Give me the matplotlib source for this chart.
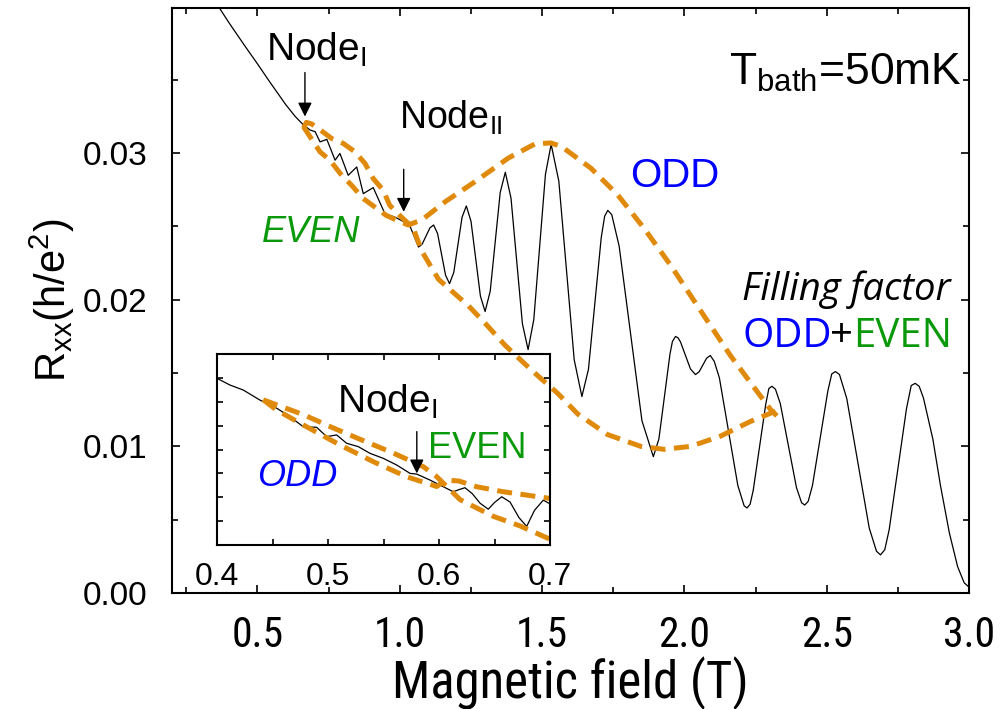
import os
import matplotlib
matplotlib.use("Agg")
import matplotlib.pyplot as plt
from matplotlib import font_manager
from matplotlib.ticker import MultipleLocator, FormatStrFormatter

plt.rcParams["font.family"] = ["Liberation Sans", "DejaVu Sans"]
plt.rcParams["mathtext.fontset"] = "custom"
plt.rcParams["mathtext.rm"] = "Liberation Sans"
plt.rcParams["mathtext.it"] = "Liberation Sans:italic"

# 主曲線 Rxx(B)
field = [0.35, 0.40, 0.46, 0.50, 0.542, 0.60, 0.633, 0.662, 0.685, 0.703, 0.720,
         0.744, 0.773, 0.790, 0.819, 0.849, 0.872, 0.907, 0.948, 0.983, 1.006,
         1.035, 1.052, 1.066, 1.079, 1.0925, 1.106, 1.119, 1.133, 1.147, 1.161,
         1.175, 1.190, 1.2045, 1.219, 1.234, 1.2505, 1.267, 1.2835, 1.300, 1.318,
         1.3355, 1.353, 1.371, 1.391, 1.411, 1.431, 1.451, 1.471, 1.4915, 1.512,
         1.532, 1.559, 1.586, 1.613, 1.640, 1.663, 1.6855, 1.708, 1.720, 1.731,
         1.745, 1.771, 1.811, 1.851, 1.891, 1.9105, 1.930, 1.9495, 1.958, 1.969,
         1.978, 1.9865, 2.004, 2.0215, 2.039, 2.052, 2.065, 2.078, 2.091, 2.105,
         2.123, 2.1555, 2.188, 2.210, 2.220, 2.231, 2.242, 2.264, 2.286, 2.297,
         2.308, 2.320, 2.337, 2.3655, 2.394, 2.412, 2.423, 2.435, 2.450, 2.477,
         2.504, 2.518, 2.531, 2.545, 2.5705, 2.610, 2.6495, 2.675, 2.689, 2.704,
         2.7195, 2.750, 2.7805, 2.797, 2.811, 2.825, 2.840, 2.873, 2.900, 2.931,
         2.960, 2.983, 3.0]
rxx = [0.0404, 0.0389, 0.0372, 0.0361, 0.0349, 0.0333, 0.0325, 0.03192, 0.03158,
       0.03146, 0.03077, 0.03094, 0.02952, 0.02998, 0.02849, 0.02906, 0.02724,
       0.02765, 0.02587, 0.02564, 0.02541, 0.02507, 0.02427, 0.0236, 0.0238,
       0.02435, 0.0249, 0.0251, 0.02452, 0.0231, 0.02168, 0.0211, 0.02187,
       0.02375, 0.02563, 0.0264, 0.02535, 0.0228, 0.02025, 0.0192, 0.02059,
       0.02395, 0.02731, 0.0287, 0.02693, 0.02265, 0.01837, 0.0166, 0.01864,
       0.0236, 0.02856, 0.0306, 0.02809, 0.0220, 0.01591, 0.0134, 0.01525,
       0.01975, 0.02425, 0.0257, 0.0261, 0.0258, 0.02365, 0.0177, 0.01175,
       0.0093, 0.0105, 0.0134, 0.0163, 0.01715, 0.0175, 0.0174, 0.01712,
       0.0162, 0.01528, 0.0149, 0.01509, 0.01555, 0.01601, 0.0162, 0.0158,
       0.01468, 0.0110, 0.00732, 0.00595, 0.0058, 0.00605, 0.00701, 0.00995,
       0.01289, 0.01395, 0.0141, 0.0139, 0.01292, 0.01005, 0.00718, 0.00615,
       0.0060, 0.00625, 0.00733, 0.01055, 0.01377, 0.01495, 0.0151, 0.0149,
       0.01327, 0.00885, 0.00443, 0.00285, 0.0026, 0.00295, 0.00431, 0.00845,
       0.01259, 0.01415, 0.0143, 0.0141, 0.0133, 0.0105, 0.0073, 0.0041,
       0.0018, 0.0007, 0.0004]

# 包絡線 (EVEN レンズ + ODD 大きな弧)
env_a_field = [0.662, 0.672, 0.69, 0.73, 0.761, 0.802, 0.843, 0.878, 0.907, 0.942,
               0.965, 1.006, 1.047, 1.078, 1.136, 1.20, 1.241, 1.30, 1.37, 1.463,
               1.556, 1.626, 1.731, 1.847, 1.929, 2.022, 2.127, 2.232, 2.32]
env_a_rxx = [0.0317, 0.0321, 0.0320, 0.03145, 0.0310, 0.03066, 0.03009, 0.0293,
             0.02827, 0.02747, 0.02644, 0.02564, 0.0249, 0.0233, 0.0214, 0.0203,
             0.0196, 0.0184, 0.0169, 0.0152, 0.0136, 0.0122, 0.0108, 0.0100,
             0.0098, 0.0100, 0.0107, 0.0117, 0.0124]
env_b_field = [0.662, 0.685, 0.72, 0.755, 0.796, 0.831, 0.872, 0.913, 0.953, 1.006,
               1.03, 1.078, 1.160, 1.265, 1.381, 1.474, 1.53, 1.568, 1.672, 1.766,
               1.859, 1.952, 2.045, 2.162, 2.302, 2.325]
env_b_rxx = [0.0318, 0.03112, 0.03009, 0.02952, 0.02849, 0.02781, 0.0269, 0.02632,
             0.02575, 0.02529, 0.0251, 0.02545, 0.02669, 0.02806, 0.02966, 0.03062,
             0.0307, 0.03046, 0.02897, 0.02715, 0.02486, 0.02235, 0.01961, 0.01619,
             0.01253, 0.01208]

# インセット
ins_field = [0.400, 0.4117, 0.4237, 0.4387, 0.4538, 0.4658, 0.4778, 0.4898, 0.4988,
             0.5078, 0.5168, 0.5273, 0.5378, 0.5498, 0.5619, 0.5739, 0.5799, 0.5919,
             0.6039, 0.6129, 0.618, 0.6234, 0.630, 0.637, 0.6444, 0.650, 0.6565,
             0.664, 0.672, 0.679, 0.686, 0.694, 0.700]
ins_rxx = [0.03698, 0.03670, 0.03649, 0.03607, 0.03573, 0.03537, 0.03495, 0.03493,
           0.03454, 0.03461, 0.03426, 0.03412, 0.03384, 0.03363, 0.03335, 0.03300,
           0.03297, 0.03272, 0.03244, 0.03223, 0.03232, 0.03240, 0.03215, 0.03175,
           0.0315, 0.03178, 0.03202, 0.0318, 0.03115, 0.03078, 0.03145, 0.03188,
           0.03172]
ins_up_field = [0.4417, 0.4538, 0.4778, 0.5048, 0.5288, 0.5589, 0.5859, 0.598,
                0.619, 0.649, 0.673, 0.702]
ins_up_rxx = [0.03608, 0.03587, 0.03546, 0.03490, 0.03443, 0.03385, 0.03328, 0.03286,
              0.0319, 0.0312, 0.0308, 0.0302]
ins_lo_field = [0.4417, 0.4538, 0.4808, 0.5108, 0.5408, 0.5708, 0.598, 0.606, 0.618,
                0.634, 0.658, 0.70]
ins_lo_rxx = [0.03608, 0.03565, 0.03495, 0.03419, 0.03349, 0.03286, 0.03245, 0.03272,
              0.03268, 0.03244, 0.03223, 0.03195]

orange = "#E08A0C"
green = "#0A990A"
blue = "#0000FF"
dash = (0, (3.0, 1.7))


def find_narrow_font():
    """細字体 (Narrow / Condensed) を探す。無ければ None"""
    wanted = [
        ("liberationsansnarrow-regular", 1.0),
        ("robotocondensed-regular", 1.0),
        ("dejavusanscondensed.ttf", 0.82),
        ("notosans-condensed.ttf", 0.9),
    ]
    files = {os.path.basename(f.fname).lower(): f.fname for f in font_manager.fontManager.ttflist}
    for key, scale in wanted:
        for name, path in files.items():
            if name.startswith(key):
                return font_manager.FontProperties(fname=path), scale
    return None, None


narrow_fp, narrow_scale = find_narrow_font()

fig = plt.figure(figsize=(10, 7.09), dpi=100)
ax = fig.add_axes([0.172, 0.1636, 0.797, 0.8251])

ax.plot(field, rxx, color="k", lw=0.9)
ax.plot(env_a_field, env_a_rxx, color=orange, lw=3.6, linestyle=dash, zorder=3)
ax.plot(env_b_field, env_b_rxx, color=orange, lw=3.6, linestyle=dash, zorder=3)

ax.set_xlim(0.2, 3.0)
ax.set_ylim(0.0, 0.0399)
ax.xaxis.set_major_locator(MultipleLocator(0.5))
ax.xaxis.set_minor_locator(MultipleLocator(0.25))
ax.yaxis.set_major_locator(MultipleLocator(0.01))
ax.yaxis.set_minor_locator(MultipleLocator(0.005))
ax.xaxis.set_major_formatter(FormatStrFormatter("%.1f"))
ax.yaxis.set_major_formatter(FormatStrFormatter("%.2f"))
ax.tick_params(which="both", direction="in", top=True, right=True, width=1.2)
ax.tick_params(which="major", length=6)
ax.tick_params(which="minor", length=4)
ax.tick_params(axis="y", labelsize=24, pad=18)
ax.tick_params(axis="x", pad=16)
for sp in ax.spines.values():
    sp.set_linewidth(1.5)

if narrow_fp is not None:
    tick_fp = narrow_fp.copy()
    tick_fp.set_size(30 * narrow_scale)
    label_fp = narrow_fp.copy()
    label_fp.set_size(36.5 * narrow_scale)
else:
    tick_fp = font_manager.FontProperties(family="Liberation Sans", size=25)
    label_fp = font_manager.FontProperties(family="Liberation Sans", size=34)
for lab in ax.get_xticklabels():
    lab.set_fontproperties(tick_fp)

ax.set_xlabel("Magnetic field (T)", fontproperties=label_fp, labelpad=0)
ax.set_ylabel(r"R$_{\mathrm{xx}}$(h/e$^{2}$)", fontsize=30, labelpad=4)

# テキスト
ax.text(0.531, 0.0363, r"Node$_{\mathrm{I}}$", fontsize=28)
ax.text(0.997, 0.0317, r"Node$_{\mathrm{II}}$", fontsize=27)
ax.text(2.157, 0.03466, r"T$_{\mathrm{bath}}$=50mK", fontsize=32)
ax.text(1.811, 0.02767, "ODD", fontsize=29, color=blue)
ax.text(0.517, 0.02397, "EVEN", fontsize=26, color=green, style="italic")
osans = ["Open Sans", "DejaVu Sans"]
ax.text(2.203, 0.0200, "Filling factor", fontsize=27.5, style="italic", family=osans)
ax.text(2.203, 0.01676, "ODD", fontsize=29, color=blue, family=osans)
ax.text(2.513, 0.01676, "+", fontsize=29, color="k", family=osans)
ax.text(2.593, 0.01676, "EVEN", fontsize=29, color=green, family=osans)

arrow = dict(arrowstyle="-|>,head_length=0.6,head_width=0.3", color="k", lw=1.0,
             mutation_scale=14, shrinkA=0, shrinkB=0)
ax.annotate("", xy=(0.667, 0.0325), xytext=(0.667, 0.0355), arrowprops=arrow)
ax.annotate("", xy=(1.014, 0.0260), xytext=(1.014, 0.0289), arrowprops=arrow)

# インセット
axin = fig.add_axes([0.217, 0.2313, 0.333, 0.2694])
axin.patch.set_alpha(0.0)
axin.plot(ins_field, ins_rxx, color="k", lw=0.9)
axin.plot(ins_up_field, ins_up_rxx, color=orange, lw=3.6, linestyle=dash)
axin.plot(ins_lo_field, ins_lo_rxx, color=orange, lw=3.6, linestyle=dash)
axin.set_xlim(0.4, 0.7)
axin.set_ylim(0.030, 0.038)
axin.xaxis.set_major_locator(MultipleLocator(0.1))
axin.xaxis.set_minor_locator(MultipleLocator(0.05))
axin.xaxis.set_major_formatter(FormatStrFormatter("%.1f"))
axin.yaxis.set_major_locator(MultipleLocator(0.001))
axin.tick_params(which="both", direction="in", top=True, right=True, width=1.2, length=4)
axin.tick_params(axis="x", labelsize=23, pad=12)
axin.tick_params(axis="y", labelleft=False)
for sp in axin.spines.values():
    sp.set_linewidth(1.5)

axin.text(0.5078, 0.03554, r"Node$_{\mathrm{I}}$", fontsize=28)
axin.text(0.5904, 0.03363, "EVEN", fontsize=26, color=green)
axin.text(0.4357, 0.03247, "ODD", fontsize=26, color=blue, style="italic")
axin.annotate("", xy=(0.58, 0.0330), xytext=(0.58, 0.03475), arrowprops=arrow)

fig.savefig("out.png", dpi=100)
